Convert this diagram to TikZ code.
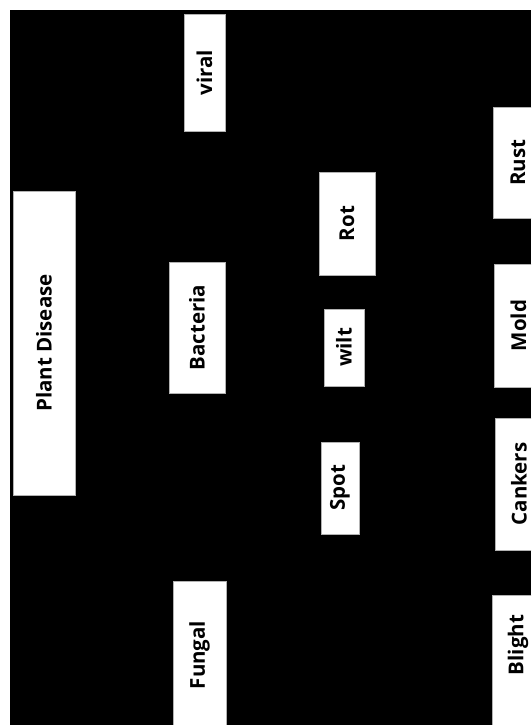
\documentclass[tikz,border=0pt]{standalone}
\usepackage{fontspec}
\setmainfont{Open Sans}
\usepackage{tikz}
\usetikzlibrary{positioning}

\begin{document}
\begin{tikzpicture}[
    x=1pt, y=-1pt,
    box/.style={rectangle, draw=gray!60, line width=0.6pt, fill=white, rotate=90, inner sep=0pt, align=center, font=\fontsize{20.5}{24}\selectfont\bfseries},
    lbl/.style={rotate=90, inner sep=0pt, font=\fontsize{20.5}{24}\selectfont\bfseries},
]
\useasboundingbox (0,0) rectangle (531,725);
\clip (0,0) rectangle (531,725);
\fill[white] (0,0) rectangle (531,725);
\fill[black] (10,10) rectangle (531,725);

% root
\node[box, minimum width=304pt, minimum height=62pt] (plant) at (44,343) {Plant Disease};

% pathogen groups
\node[box, minimum width=117pt, minimum height=41pt] (viral) at (204.5,72.5) {viral};
\node[box, minimum width=131pt, minimum height=56pt] (bacteria) at (197,327.5) {Bacteria};
\node[box, minimum width=148pt, minimum height=53pt] (fungal) at (199.5,655) {Fungal};

% bacterial symptoms
\node[box, minimum width=103pt, minimum height=56pt] (rot) at (347,223.5) {Rot};
\node[box, minimum width=77pt, minimum height=40pt] (wilt) at (344,347.5) {wilt};
\node[box, minimum width=92pt, minimum height=38pt] (spot) at (340,488) {Spot};

% fungal symptoms
\node[box, minimum width=111pt, minimum height=50pt] (rust) at (518,162.5) {Rust};
\node[box, minimum width=123pt, minimum height=49pt] (mold) at (518.5,325.5) {Mold};
\node[box, minimum width=132pt, minimum height=48pt] (cankers) at (519,484) {Cankers};
\node[box, minimum width=140pt, minimum height=52pt,
      label={[lbl, xshift=20pt]center:Blight}] (blight) at (518,665) {};
\end{tikzpicture}
\end{document}
